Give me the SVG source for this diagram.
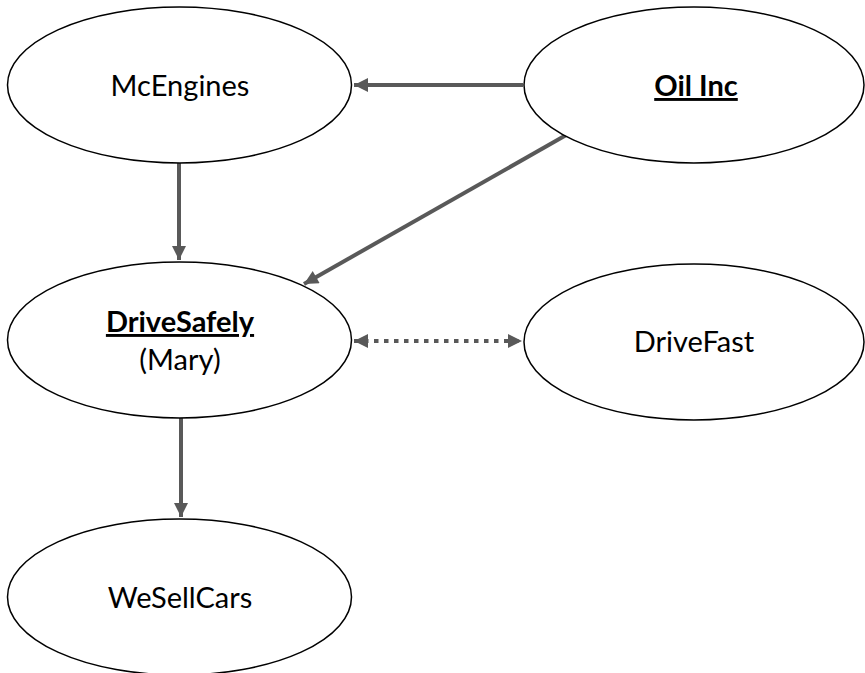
<svg xmlns="http://www.w3.org/2000/svg" width="865" height="673" viewBox="0 0 865 673">
<style>
.node{fill:#fff;stroke:#000;stroke-width:1.5}
.lbl{font-family:Lato,"Liberation Sans",sans-serif;font-size:29px;fill:#000;text-anchor:middle}
.b{font-weight:bold;text-decoration:underline}
.edge{stroke:#595959;stroke-width:4;fill:none}
.dot{stroke-dasharray:4.5 5.5}
</style>
<defs>
<marker id="ah" viewBox="0 0 10 10" refX="10" refY="5" markerWidth="4" markerHeight="3.5" orient="auto-start-reverse" markerUnits="strokeWidth">
<path d="M0,0 L10,5 L0,10 z" fill="#595959"/>
</marker>
</defs>
<g id="connectors">
<line class="edge" x1="523" y1="85" x2="354" y2="85" marker-end="url(#ah)"/>
<line class="edge" x1="568" y1="134" x2="304" y2="284" marker-end="url(#ah)"/>
<line class="edge" x1="179" y1="163" x2="179" y2="260" marker-end="url(#ah)"/>
<line class="edge" x1="181" y1="418" x2="181" y2="517" marker-end="url(#ah)"/>
<line class="edge dot" x1="354" y1="341" x2="522" y2="341" marker-start="url(#ah)" marker-end="url(#ah)"/>
</g>
<g id="McEngines">
<ellipse class="node" cx="179.5" cy="85" rx="172" ry="78"/>
<text class="lbl" x="180" y="96">McEngines</text>
</g>
<g id="OilInc">
<ellipse class="node" cx="694" cy="85" rx="170" ry="78"/>
<text class="lbl b" x="696" y="96">Oil Inc</text>
</g>
<g id="DriveSafely">
<ellipse class="node" cx="179.5" cy="340" rx="172" ry="78"/>
<text class="lbl b" x="180" y="332">DriveSafely</text>
<text class="lbl" x="180" y="370">(Mary)</text>
</g>
<g id="DriveFast">
<ellipse class="node" cx="694" cy="342" rx="170" ry="78"/>
<text class="lbl" x="694" y="352">DriveFast</text>
</g>
<g id="WeSellCars">
<ellipse class="node" cx="179.5" cy="597" rx="172" ry="78"/>
<text class="lbl" x="180" y="608">WeSellCars</text>
</g>
</svg>
